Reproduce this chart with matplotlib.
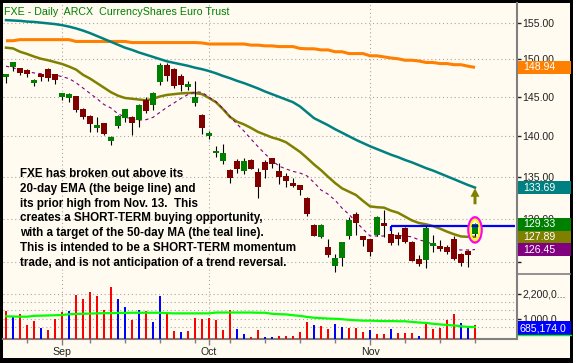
import numpy as np
import matplotlib
matplotlib.use("Agg")
import matplotlib.pyplot as plt
from matplotlib.patches import Rectangle, Ellipse, Polygon
from matplotlib.ticker import FixedLocator, FuncFormatter, NullLocator

plt.rcParams["font.family"] = ["Liberation Sans", "DejaVu Sans"]

W, H = 573, 363
CREAM = "#FFFBF0"
GRID = "#A8A8A8"
AXIS = "#808080"
TXT = "#222222"

# FXE daily, 2008-08-20 .. 2008-11-24 (one entry per trading day)
opens = [147.65, 149.0, 148.8, 148.55, 146.9, 148.05, 148.7, 148.05, 145.05, 144.9,
         145.15, 143.5, 142.6, 141.05, 141.65, 139.35, 141.35, 142.3, 142.5, 142.0,
         144.7, 144.05, 147.0, 149.3, 148.7, 147.8, 146.3, 144.2, 142.7, 140.0,
         137.9, 136.95, 135.8, 136.9, 135.7, 137.1, 135.6, 136.8, 137.3, 135.7,
         135.1, 134.3, 134.0, 132.5, 129.25, 127.85, 126.7, 124.6, 125.45, 128.0,
         130.5, 128.0, 127.6, 128.1, 129.55, 128.2, 128.1, 128.9, 127.3, 125.4,
         125.3, 126.8, 126.8, 126.7, 127.6, 126.0, 126.3, 128.2]
highs = [148.05, 149.7, 148.9, 148.7, 147.4, 148.1, 148.8, 148.1, 145.5, 145.5,
         145.2, 143.6, 142.65, 142.5, 141.7, 140.0, 142.7, 143.5, 142.6, 144.1,
         145.0, 145.7, 149.5, 149.5, 148.8, 148.0, 147.1, 147.1, 142.8, 140.7,
         138.8, 139.0, 135.9, 137.2, 137.3, 137.15, 136.1, 137.0, 137.35, 136.7,
         135.4, 134.8, 134.05, 132.6, 129.4, 129.4, 127.7, 126.0, 127.35, 130.2,
         130.8, 128.05, 127.65, 130.3, 131.0, 128.7, 128.5, 129.0, 127.4, 125.8,
         129.1, 128.1, 127.5, 127.0, 128.0, 126.05, 126.35, 129.55]
lows = [146.9, 148.5, 147.9, 147.65, 146.5, 147.1, 147.1, 146.75, 144.7, 144.4,
        143.1, 142.2, 140.6, 140.6, 140.2, 138.9, 141.05, 141.8, 140.1, 141.2,
        143.0, 143.4, 146.6, 147.1, 146.2, 145.8, 145.9, 143.8, 140.3, 139.6,
        137.45, 136.5, 134.2, 135.4, 135.3, 135.9, 132.5, 134.8, 136.1, 134.1,
        133.7, 133.7, 132.8, 130.3, 128.0, 127.8, 125.6, 123.9, 124.55, 127.7,
        128.1, 126.8, 125.7, 128.0, 127.9, 127.0, 127.0, 127.2, 125.1, 124.6,
        124.4, 126.2, 126.3, 125.9, 125.3, 124.6, 124.5, 128.0]
closes = [148.05, 149.6, 148.15, 148.05, 147.2, 147.65, 147.55, 147.2, 145.5, 145.45,
          143.3, 142.5, 141.6, 141.4, 140.3, 139.9, 142.6, 143.45, 141.7, 144.0,
          143.2, 145.6, 149.2, 147.8, 146.5, 146.6, 146.75, 145.0, 141.0, 140.4,
          138.2, 137.9, 134.8, 135.9, 136.9, 136.0, 133.8, 135.8, 136.6, 135.0,
          134.5, 133.9, 133.4, 130.6, 128.05, 129.3, 125.85, 125.5, 127.3, 129.9,
          129.55, 127.5, 126.2, 130.2, 129.1, 127.2, 127.7, 127.3, 125.2, 124.8,
          128.9, 127.2, 126.5, 126.2, 125.35, 124.9, 125.85, 129.33]

ma200 = [152.55, 152.55, 152.7, 152.7, 152.7, 152.7, 152.7, 152.7, 152.7, 152.7,
         152.45, 152.45, 152.45, 152.45, 152.45, 152.45, 152.45, 152.45, 152.3, 152.3,
         152.3, 152.3, 152.3, 152.3, 152.3, 152.3, 152.3, 152.3, 152.25, 152.1,
         152.1, 152.1, 152.1, 152.1, 152.1, 151.95, 151.95, 151.85, 151.85, 151.75,
         151.75, 151.75, 151.5, 151.45, 151.45, 151.3, 151.3, 151.05, 151.05, 150.8,
         150.8, 150.8, 150.5, 150.5, 150.35, 150.2, 150.1, 149.9, 149.9, 149.8,
         149.6, 149.6, 149.45, 149.45, 149.3, 149.3, 149.1, 148.94]
ma50 = [155.4, 155.35, 155.3, 155.2, 155.15, 155.05, 154.95, 154.85, 154.7, 154.5,
        154.25, 153.95, 153.6, 153.2, 152.8, 152.4, 152.0, 151.6, 151.3, 150.95,
        150.65, 150.35, 150.05, 149.75, 149.55, 149.35, 149.15, 148.9, 148.7, 148.45,
        148.15, 147.8, 147.5, 147.15, 146.85, 146.5, 146.15, 145.75, 145.4, 145.05,
        144.7, 144.35, 143.8, 143.05, 142.3, 141.85, 141.4, 140.9, 140.45, 140.0,
        139.55, 139.15, 138.75, 138.4, 138.05, 137.7, 137.4, 137.05, 136.75, 136.4,
        136.05, 135.75, 135.4, 135.05, 134.7, 134.35, 134.0, 133.69]
ema20 = [151.6, 151.5, 151.05, 150.75, 150.4, 150.1, 149.9, 149.65, 149.4, 149.05,
         148.65, 147.95, 147.45, 146.85, 146.25, 145.65, 145.2, 144.9, 144.8, 144.7,
         144.6, 144.8, 145.1, 145.3, 145.4, 145.5, 145.55, 145.55, 145.4, 144.9,
         144.35, 143.45, 142.45, 141.85, 141.5, 141.05, 140.55, 140.2, 139.85, 139.6,
         139.25, 138.65, 138.05, 137.3, 136.5, 135.8, 135.0, 134.25, 133.6, 133.2,
         132.8, 132.1, 131.45, 131.35, 131.3, 130.95, 130.7, 130.25, 129.8, 129.5,
         129.35, 129.15, 128.85, 128.5, 128.2, 127.95, 127.9, 127.89]
ma10 = [149.1, 148.9, 148.55, 148.35, 148.2, 148.1, 148.0, 147.95, 147.7, 147.45,
        146.9, 146.2, 145.5, 144.8, 144.05, 143.6, 142.85, 142.45, 142.15, 142.05,
        142.1, 142.4, 143.05, 143.7, 144.25, 144.85, 145.35, 145.7, 145.65, 145.0,
        144.4, 143.55, 142.5, 141.55, 140.65, 139.65, 138.7, 137.8, 137.0, 136.3,
        135.95, 135.65, 135.45, 135.1, 134.3, 133.4, 132.9, 132.2, 131.25, 130.5,
        129.65, 128.8, 128.0, 128.0, 128.0, 128.1, 128.05, 128.0, 127.9, 127.55,
        127.35, 127.05, 126.75, 126.6, 126.45, 126.4, 126.4, 126.45]

# volume in millions of shares, bar colour as drawn on the chart
volume = [1.37, 1.10, 1.22, 0.69, 0.86, 0.55, 0.45, 0.98, 1.31, 1.37,
          2.14, 1.94, 2.27, 2.09, 1.41, 2.51, 1.94, 1.55, 0.93, 1.41,
          1.37, 0.83, 2.09, 1.27, 0.41, 0.35, 0.41, 1.04, 0.98, 1.03,
          0.93, 0.45, 1.41, 0.50, 0.26, 0.11, 0.45, 0.11, 0.11, 0.17,
          0.17, 0.17, 0.35, 0.83, 0.69, 0.65, 0.50, 0.74, 0.59, 0.55,
          0.55, 0.35, 0.45, 0.26, 0.26, 0.50, 0.30, 0.30, 0.30, 0.17,
          0.74, 0.50, 0.55, 0.93, 1.22, 0.79, 0.65, 0.685174]
vol_color = list("rbrrrbrrrbrrrrrrbbrbrbbrrbrrrrrrrbbrrbbrrrrrbrrbbrrrbrrbrrrbrrrrrbb")
vol_ma = [1.11, 1.10, 1.09, 1.09, 1.13, 1.14, 1.15, 1.16, 1.17, 1.21,
          1.22, 1.23, 1.24, 1.25, 1.26, 1.26, 1.27, 1.27, 1.28, 1.28,
          1.28, 1.28, 1.28, 1.26, 1.25, 1.25, 1.25, 1.25, 1.25, 1.25,
          1.29, 1.29, 1.29, 1.29, 1.29, 1.29, 1.28, 1.28, 1.23, 1.21,
          1.20, 1.16, 1.13, 1.08, 1.04, 1.02, 1.00, 0.99, 0.97, 0.94,
          0.92, 0.90, 0.90, 0.89, 0.88, 0.88, 0.87, 0.87, 0.84, 0.81,
          0.79, 0.75, 0.72, 0.69, 0.67, 0.63, 0.60, 0.59]

month_idx = [8, 29, 52]
month_labels = ["Sep", "Oct", "Nov"]
week_idx = [3, 12, 17, 22, 27, 32, 37, 42, 47, 57, 62, 67]
breakout_level = 129.1
breakout_start = 55

title = "FXE - Daily  ARCX  CurrencyShares Euro Trust"
note = ["FXE has broken out above its",
        "20-day EMA (the beige line) and",
        "its prior high from Nov. 13.  This",
        "creates a SHORT-TERM buying opportunity,",
        "with a target of the 50-day MA (the teal line).",
        "This is intended to be a SHORT-TERM momentum",
        "trade, and is not anticipation of a trend reversal."]


def fx(px):
    return px / W


def fy(py):
    return 1 - py / H


fig = plt.figure(figsize=(W / 100, H / 100), dpi=100, facecolor="black")
fig.add_artist(Rectangle((fx(3.3), fy(358)), fx(570 - 3.3), (358 - 3.3) / H,
                         transform=fig.transFigure, facecolor=CREAM,
                         edgecolor="none", zorder=-5))

ax = fig.add_axes([fx(3.3), fy(274), fx(517 - 3.3), (274 - 3.3) / H])
axv = fig.add_axes([fx(3.3), fy(339.4), fx(517 - 3.3), (339.4 - 274) / H], sharex=ax)

x = np.arange(len(closes))
o, hi, lo, c = map(np.array, (opens, highs, lows, closes))
up = c >= o

# price panel
ax.set_facecolor(CREAM)
ax.set_yscale("log")
ax.set_xlim(-0.386, 73.0)
ax.set_ylim(123.7, 157.77)
ax.plot(x, ma200, color="#FF8000", lw=2.2, zorder=2, solid_capstyle="butt")
ax.plot(x, ma50, color="#008080", lw=1.8, zorder=2)
ax.plot(x, ema20, color="#808000", lw=1.8, zorder=2)
ax.plot(x, ma10, color="#800080", lw=0.8, ls=(0, (3, 3)), zorder=2)
ax.vlines(x, lo, hi, color="black", lw=0.8, zorder=3)
ax.bar(x, np.maximum(np.abs(c - o), 0.08), bottom=np.minimum(o, c), width=0.72,
       color=np.where(up, "#008000", "#800000"), zorder=4)
ax.hlines(breakout_level, breakout_start, 72.7, color="#0000FF", lw=1.6, zorder=5)
ax.vlines(breakout_start, breakout_level * 0.996, breakout_level, color="#0000FF", lw=1.6, zorder=5)

ax.yaxis.set_major_locator(FixedLocator([125, 130, 135, 140, 145, 150, 155]))
ax.yaxis.set_minor_locator(NullLocator())
ax.yaxis.set_major_formatter(FuncFormatter(lambda v, p: "" if v < 127 else f"{v:.2f}"))
ax.yaxis.tick_right()
ax.tick_params(axis="y", direction="out", length=3, width=1, color=TXT,
               labelsize=7.6, labelcolor=TXT, pad=1)
ax.tick_params(axis="x", bottom=False, labelbottom=False)
ax.set_xticks(month_idx)
ax.grid(True, color=GRID, ls=(0, (1, 2.5)), lw=0.8)
for s in ("top", "left", "bottom"):
    ax.spines[s].set_visible(False)
ax.spines["right"].set_color(AXIS)
ax.spines["right"].set_linewidth(1.5)

# volume panel
axv.set_facecolor(CREAM)
axv.set_ylim(0, 3.14)
cmap = {"r": "#FF0000", "b": "#0000FF"}
axv.bar(x, volume, width=0.38, color=[cmap[k] for k in vol_color], zorder=3)
axv.plot(x, vol_ma, color="#00FF00", lw=1.6, zorder=4)
for g in [0.6, 1.0, 1.4, 1.8, 2.2]:
    axv.axhline(g, color=GRID, ls=(0, (1, 2.5)), lw=0.8, zorder=1)
axv.yaxis.set_major_locator(FixedLocator([1.0, 2.2]))
axv.yaxis.set_major_formatter(FuncFormatter(lambda v, p: f"{v * 1e6:,.0f}"[:7] + "..."))
axv.yaxis.tick_right()
axv.tick_params(axis="y", direction="out", length=3, width=1, color=TXT,
                labelsize=7.6, labelcolor=TXT, pad=1)
axv.set_xticks(month_idx)
axv.set_xticklabels(month_labels)
axv.set_xticks(week_idx, minor=True)
axv.tick_params(axis="x", which="major", length=4, width=1, color=AXIS,
                labelsize=7.6, labelcolor=TXT, pad=1.5)
axv.tick_params(axis="x", which="minor", length=2.8, width=1, color=AXIS)
axv.xaxis.grid(True, color=GRID, ls=(0, (1, 2.5)), lw=0.8)
for s in ("top", "left"):
    axv.spines[s].set_visible(False)
for s in ("right", "bottom"):
    axv.spines[s].set_color(AXIS)
    axv.spines[s].set_linewidth(1.5)

# separator right of the axis
fig.add_artist(plt.Line2D([fx(517), fx(570)], [fy(274), fy(274)], transform=fig.transFigure,
                          color=AXIS, lw=1.2))

# title and note
fig.text(fx(4), fy(15), title, color="#008000", fontsize=7.7, va="baseline", ha="left")
for k, line in enumerate(note):
    fig.text(fx(20), fy(176.7 + 14.9 * k), line, fontsize=8.4, fontweight="bold",
             color="black", va="baseline", ha="left")


def img_y(axis, v):
    return H - axis.transData.transform((0, v))[1]


# last-value boxes on the price axis, stacked so they do not overlap
bh = 12.5
boxes = [(ma200[-1], "#FF8000"), (ma50[-1], "#008080"), (closes[-1], "#008000"),
         (ema20[-1], "#808000"), (ma10[-1], "#800080")]
placed = sorted([(img_y(ax, v), v, col) for v, col in boxes])
prev_bottom = -1e9
for yc, v, col in placed:
    yc = max(yc, prev_bottom + bh / 2)
    prev_bottom = yc + bh / 2
    fig.add_artist(Rectangle((fx(518), fy(yc + bh / 2)), fx(571 - 518), bh / H,
                             transform=fig.transFigure, facecolor=col, edgecolor="none", zorder=2))
    fig.text(fx(523), fy(yc), f"{v:.2f}", color="white", fontsize=7.6,
             va="center", ha="left", zorder=3)

# last volume box
yv = img_y(axv, volume[-1]) + 2.5
fig.add_artist(Rectangle((fx(518), fy(yv + 7)), fx(571 - 518), 14 / H,
                         transform=fig.transFigure, facecolor="#0000FF", edgecolor="none", zorder=2))
fig.add_artist(plt.Line2D([fx(518), fx(571)], [fy(yv + 7.5), fy(yv + 7.5)], transform=fig.transFigure,
                          color="#00FF00", lw=1.0, zorder=2))
fig.text(fx(520), fy(yv + 0.5), f"{volume[-1] * 1e6:,.1f}", color="white", fontsize=7.6,
         va="center", ha="left", zorder=3)

# highlight of the breakout candle and the up arrow
cx = ax.transData.transform((x[-1], closes[-1]))[0]
cy = img_y(ax, 128.7)
fig.add_artist(Ellipse((fx(cx), fy(cy)), 12 / W, 24 / H, transform=fig.transFigure,
                       facecolor="none", edgecolor="#FF00FF", lw=2.6, zorder=4))
fig.add_artist(Ellipse((fx(cx), fy(cy)), 9.5 / W, 21 / H, transform=fig.transFigure,
                       facecolor="none", edgecolor="#FFFF00", lw=1.4, zorder=4))
ay = img_y(ax, 131.7)
arrow = [(cx - 1.5, ay), (cx + 1.5, ay), (cx + 1.5, ay - 7.5), (cx + 4.5, ay - 7.5),
         (cx, ay - 16), (cx - 4.5, ay - 7.5), (cx - 1.5, ay - 7.5)]
fig.add_artist(Polygon([(fx(px), fy(py)) for px, py in arrow], closed=True,
                       transform=fig.transFigure, facecolor="#808000", edgecolor="none", zorder=4))

fig.savefig("out.png", dpi=100, facecolor="black")
